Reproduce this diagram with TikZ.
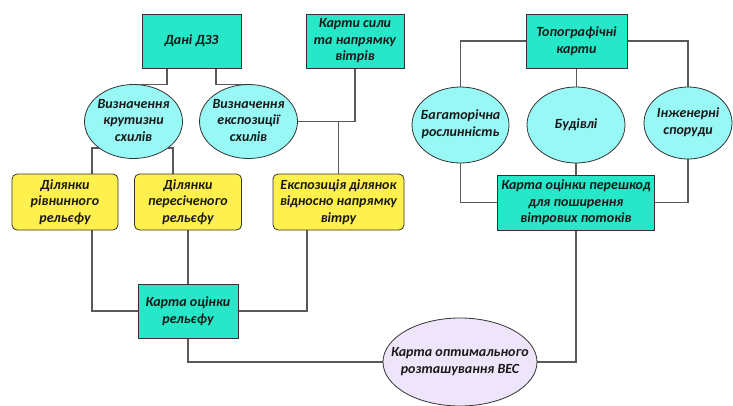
\documentclass[tikz,border=0pt]{standalone}
\usepackage{fontspec}
\setmainfont{Carlito}
\usetikzlibrary{shapes.geometric,backgrounds}

\definecolor{turq}{RGB}{38,232,200}
\definecolor{lcyan}{RGB}{152,248,246}
\definecolor{lyell}{RGB}{255,240,78}
\definecolor{lilac}{RGB}{239,229,251}

% text of an oval, kept out of the oval's size
\newcommand{\ovtext}[1]{\makebox[0pt]{\smash{\raisebox{-0.25em}{\begin{tabular}{@{}c@{}}#1\end{tabular}}}}}

\begin{document}
\begin{tikzpicture}[x=1pt, y=-1pt,
	txt/.style = {font=\bfseries\itshape\fontsize{14}{16.5}\selectfont, align=center, text=black!90},
	box/.style = {txt, draw=black!80, thick, fill=turq, minimum height=54pt, inner sep=1pt},
	ybox/.style = {txt, draw=black!80, thick, fill=lyell, rounded corners=5pt, minimum height=56pt, inner sep=1pt},
	oval/.style = {txt, ellipse, draw=black!80, thick, fill=lcyan, inner sep=0pt, minimum width=98pt, minimum height=74pt},
	link/.style = {draw=black!65, line width=1.1pt}]
	\useasboundingbox (0,0) rectangle (733,405);

	% left part
	\node[box, minimum width=99pt] (dzz) at (191.5,41) {Дані ДЗЗ};
	\node[box, minimum width=98pt] (vitr) at (355,41) {Карти сили\\та напрямку\\вітрів};
	\node[oval] (kryt) at (133.5,121.5) {\ovtext{Визначення\\крутизни\\схилів}};
	\node[oval] (eksp) at (248.5,121.5) {\ovtext{Визначення\\експозиції\\схилів}};
	\node[ybox, minimum width=106pt] (rivn) at (65,202) {Ділянки\\рівнинного\\рельєфу};
	\node[ybox, minimum width=107pt] (pers) at (188,202) {Ділянки\\пересіченого\\рельєфу};
	\node[ybox, minimum width=131pt] (vidn) at (338.5,202) {Експозиція ділянок\\відносно напрямку\\вітру};
	\node[box, minimum width=100pt] (rel) at (188,311) {Карта оцінки\\рельєфу};

	% right part
	\node[box, minimum width=101pt] (topo) at (576.5,41) {Топографічні\\карти};
	\node[oval, minimum width=97pt, minimum height=76pt] (rosl) at (460.5,125) {\ovtext{Багаторічна\\рослинність}};
	\node[oval, minimum height=76pt] (bud) at (576,125) {\ovtext{Будівлі}};
	\node[oval, minimum width=88pt, minimum height=72pt] (inzh) at (688,123) {\ovtext{Інженерні\\споруди}};
	\node[box, minimum width=157pt, minimum height=55pt] (pere) at (576,202.5) {Карта оцінки перешкод\\для поширення\\вітрових потоків};

	% result
	\node[oval, fill=lilac, minimum width=154pt, minimum height=88pt] (ves) at (460,362) {\ovtext{Карта оптимального\\розташування ВЕС}};

	\begin{scope}[on background layer]
		\draw[link] ([xshift=-24.5pt]dzz.south) |- (kryt.north);
		\draw[link] ([xshift=24.5pt]dzz.south) |- (eksp.north);
		\draw[link] (vitr.south) |- (eksp.east);
		\draw[link] (vidn.north) -- (vidn.north |- eksp.east);
		\draw[link] (kryt.south west) -| ([xshift=27pt]rivn.north);
		\draw[link] (kryt.south east) -| ([xshift=-15pt]pers.north);
		\draw[link] ([xshift=27pt]rivn.south) |- (rel.west);
		\draw[link] (pers.south) -- (rel.north);
		\draw[link] ([xshift=-31.5pt]vidn.south) |- (rel.east);
		\draw[link] (rel.south) |- (ves.west);
		\draw[link] (topo.west) -| (rosl.north);
		\draw[link] (topo.east) -| (inzh.north);
		\draw[link] (topo.south) -- (topo.south |- bud.north);
		\draw[link] (rosl.south) |- (pere.west);
		\draw[link] (inzh.south) |- (pere.east);
		\draw[link] (bud.south) -- (pere.north);
		\draw[link] (pere.south) |- (ves.east);
	\end{scope}
\end{tikzpicture}
\end{document}
